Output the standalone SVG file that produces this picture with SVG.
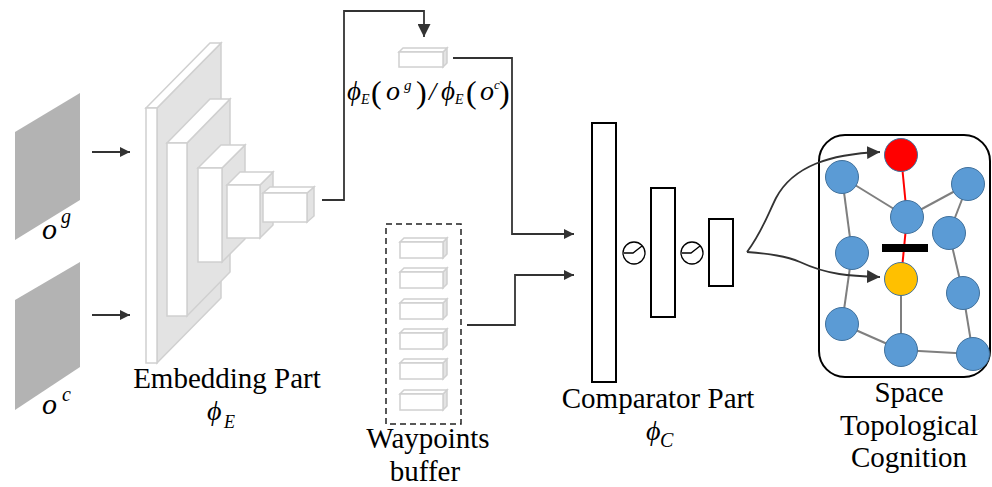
<svg xmlns="http://www.w3.org/2000/svg" width="992" height="487" viewBox="0 0 992 487">
  <defs>
    <marker id="arr" viewBox="0 0 10 10" refX="10" refY="5" markerWidth="10" markerHeight="10" markerUnits="userSpaceOnUse" orient="auto">
      <path d="M0,0 L10,5 L0,10 z" fill="#333"/>
    </marker>
    <marker id="arrBig" viewBox="0 0 10 10" refX="10" refY="5" markerWidth="13" markerHeight="13" markerUnits="userSpaceOnUse" orient="auto">
      <path d="M0,0 L10,5 L0,10 z" fill="#333"/>
    </marker>
  </defs>
  <style>
    text { font-family: "Times New Roman", "Liberation Serif", Times, "Nimbus Roman", "FreeSerif", "Noto Serif", serif; fill: #000; }
    .lbl { font-size: 29px; text-anchor: middle; }
    .it { font-style: italic; }
    .panel { fill: #b3b3b3; }
    .front { fill: #ffffff; stroke: #d0d0d0; stroke-width: 1.5; }
    .side { fill: #e3e3e3; stroke: #d0d0d0; stroke-width: 1.5; }
    .conn { fill: none; stroke: #333; stroke-width: 1.8; }
    .layer { fill: #ffffff; stroke: #000; stroke-width: 2; }
    .node { fill: #5b9bd5; stroke: #41719c; stroke-width: 1; }
    .edge { stroke: #7f7f7f; stroke-width: 2; }
    .path { stroke: #ff0000; stroke-width: 2; }
  </style>

  <!-- input observations -->
  <g id="obs-goal">
    <polygon class="panel" points="15,132 80,93 80,200 15,240"/>
    <text class="it" x="42" y="239" font-size="30">o</text>
    <text class="it" x="61" y="223" font-size="20">g</text>
  </g>
  <g id="obs-current">
    <polygon class="panel" points="15,300 80,262 80,367 15,410"/>
    <text class="it" x="42" y="414" font-size="30">o</text>
    <text class="it" x="62" y="401" font-size="20">c</text>
  </g>

  <!-- embedding network -->
  <g id="embedding">
    <polygon class="side" points="157,108 221,43 221,298 157,363"/>
    <polygon class="front" points="146,108 210,43 221,43 157,108"/>
    <rect class="front" x="146" y="108" width="11" height="255"/>

    <polygon class="side" points="187,143 230,99 230,272 187,316"/>
    <polygon class="front" points="167,143 210,99 230,99 187,143"/>
    <rect class="front" x="167" y="143" width="20" height="173"/>

    <polygon class="side" points="222,168 245,145 245,239 222,262"/>
    <polygon class="front" points="198,168 221,145 245,145 222,168"/>
    <rect class="front" x="198" y="168" width="24" height="94"/>

    <polygon class="side" points="260,185 273,172 273,225 260,238"/>
    <polygon class="front" points="227,185 240,172 273,172 260,185"/>
    <rect class="front" x="227" y="185" width="33" height="53"/>

    <polygon class="side" points="307,193 314,187 314,216 307,222"/>
    <polygon class="front" points="263,193 270,187 314,187 307,193"/>
    <rect class="front" x="263" y="193" width="44" height="29"/>

    <text class="lbl" x="227" y="388">Embedding Part</text>
    <text class="it" x="207" y="420" font-size="28">ϕ</text>
    <text class="it" x="224" y="428" font-size="18">E</text>
  </g>

  <!-- embedding feature -->
  <g id="feature">
    <polygon class="side" points="443,52 447,48 447,63 443,67"/>
    <polygon class="front" points="399,52 403,48 447,48 443,52"/>
    <rect class="front" x="399" y="52" width="44" height="15"/>
    <text class="it" x="347" y="100" font-size="27">ϕ</text>
    <text class="it" x="361" y="104" font-size="14">E</text>
    <text x="371" y="103" font-size="32">(</text>
    <text class="it" x="386" y="100" font-size="28">o</text>
    <text class="it" x="404" y="90" font-size="15">g</text>
    <text x="416" y="103" font-size="32">)</text>
    <text class="it" x="429" y="100" font-size="26">/</text>
    <text class="it" x="441" y="100" font-size="27">ϕ</text>
    <text class="it" x="455" y="104" font-size="14">E</text>
    <text x="466" y="103" font-size="32">(</text>
    <text class="it" x="480" y="100" font-size="28">o</text>
    <text class="it" x="494" y="89" font-size="13">c</text>
    <text x="499" y="103" font-size="32">)</text>
  </g>

  <!-- waypoint memory -->
  <g id="waypoints">
    <rect x="386" y="224" width="75" height="200" fill="none" stroke="#222" stroke-width="1.5" stroke-dasharray="6,4"/>
    <g>
      <polygon class="side" points="443,242 447,238 447,254 443,258"/>
      <polygon class="front" points="400,242 404,238 447,238 443,242"/>
      <rect class="front" x="400" y="242" width="43" height="16"/>
    </g>
    <g transform="translate(0,30)">
      <polygon class="side" points="443,242 447,238 447,254 443,258"/>
      <polygon class="front" points="400,242 404,238 447,238 443,242"/>
      <rect class="front" x="400" y="242" width="43" height="16"/>
    </g>
    <g transform="translate(0,61)">
      <polygon class="side" points="443,242 447,238 447,254 443,258"/>
      <polygon class="front" points="400,242 404,238 447,238 443,242"/>
      <rect class="front" x="400" y="242" width="43" height="16"/>
    </g>
    <g transform="translate(0,91)">
      <polygon class="side" points="443,242 447,238 447,254 443,258"/>
      <polygon class="front" points="400,242 404,238 447,238 443,242"/>
      <rect class="front" x="400" y="242" width="43" height="16"/>
    </g>
    <g transform="translate(0,121)">
      <polygon class="side" points="443,242 447,238 447,254 443,258"/>
      <polygon class="front" points="400,242 404,238 447,238 443,242"/>
      <rect class="front" x="400" y="242" width="43" height="16"/>
    </g>
    <g transform="translate(0,152)">
      <polygon class="side" points="443,242 447,238 447,254 443,258"/>
      <polygon class="front" points="400,242 404,238 447,238 443,242"/>
      <rect class="front" x="400" y="242" width="43" height="16"/>
    </g>
    <text class="lbl" x="428" y="448">Waypoints</text>
    <text class="lbl" x="425" y="481">buffer</text>
  </g>

  <!-- comparator network -->
  <g id="comparator">
    <rect class="layer" x="592" y="123" width="24" height="259"/>
    <rect class="layer" x="651" y="188" width="24" height="129"/>
    <rect class="layer" x="709" y="219" width="24" height="67"/>
    <circle cx="634" cy="253" r="11" fill="#fff" stroke="#000" stroke-width="1.3"/>
    <path d="M624,253 H633 L642,246" fill="none" stroke="#000" stroke-width="1.3"/>
    <circle cx="692" cy="253" r="11" fill="#fff" stroke="#000" stroke-width="1.3"/>
    <path d="M682,253 H691 L700,246" fill="none" stroke="#000" stroke-width="1.3"/>
    <text class="lbl" x="658" y="408">Comparator Part</text>
    <text class="it" x="646" y="440" font-size="28">ϕ</text>
    <text class="it" x="660" y="447" font-size="20">C</text>
  </g>

  <!-- topological map -->
  <g id="topology">
    <rect x="819" y="135" width="171" height="242" rx="26" ry="26" fill="#fff" stroke="#000" stroke-width="2"/>
    <line class="edge" x1="842" y1="177" x2="907" y2="217"/>
    <line class="edge" x1="907" y1="217" x2="968" y2="184"/>
    <line class="edge" x1="968" y1="184" x2="949" y2="233"/>
    <line class="edge" x1="949" y1="233" x2="963" y2="293"/>
    <line class="edge" x1="963" y1="293" x2="973" y2="354"/>
    <line class="edge" x1="973" y1="354" x2="901" y2="350"/>
    <line class="edge" x1="901" y1="350" x2="901" y2="279"/>
    <line class="edge" x1="901" y1="350" x2="842" y2="324"/>
    <line class="edge" x1="842" y1="324" x2="852" y2="253"/>
    <line class="edge" x1="852" y1="253" x2="842" y2="177"/>
    <line class="path" x1="901" y1="155" x2="907" y2="217"/>
    <line class="path" x1="907" y1="217" x2="901" y2="279"/>
    <circle class="node" cx="842" cy="177" r="16.5"/>
    <circle class="node" cx="968" cy="184" r="16.5"/>
    <circle class="node" cx="907" cy="217" r="16.5"/>
    <circle class="node" cx="949" cy="233" r="16.5"/>
    <circle class="node" cx="852" cy="253" r="16.5"/>
    <circle class="node" cx="963" cy="293" r="16.5"/>
    <circle class="node" cx="842" cy="324" r="16.5"/>
    <circle class="node" cx="901" cy="350" r="16.5"/>
    <circle class="node" cx="973" cy="354" r="16.5"/>
    <circle cx="901" cy="155" r="16.5" fill="#ff0000" stroke="#41719c" stroke-width="1"/>
    <circle cx="901" cy="279" r="16.5" fill="#ffc000" stroke="#41719c" stroke-width="1"/>
    <rect x="882" y="244" width="46" height="8" fill="#000"/>
    <text class="lbl" x="909" y="402">Space</text>
    <text class="lbl" x="909" y="435">Topological</text>
    <text class="lbl" x="909" y="467">Cognition</text>
  </g>

  <!-- connectors -->
  <g id="connectors">
    <line class="conn" x1="92" y1="152" x2="130" y2="152" marker-end="url(#arr)"/>
    <line class="conn" x1="92" y1="315" x2="130" y2="315" marker-end="url(#arr)"/>
    <path class="conn" d="M322,200 H344 V11 H424 V37" marker-end="url(#arrBig)"/>
    <path class="conn" d="M453,58 H512 V234 H574" marker-end="url(#arr)"/>
    <path class="conn" d="M467,325 H515 V275 H574" marker-end="url(#arr)"/>
    <path class="conn" d="M747,252 C762,232 768,214 776,198 C793,166 830,154 880,152" marker-end="url(#arrBig)"/>
    <path class="conn" d="M747,252 C770,254 786,256 800,262 C828,275 850,276 880,277" marker-end="url(#arrBig)"/>
  </g>
</svg>
